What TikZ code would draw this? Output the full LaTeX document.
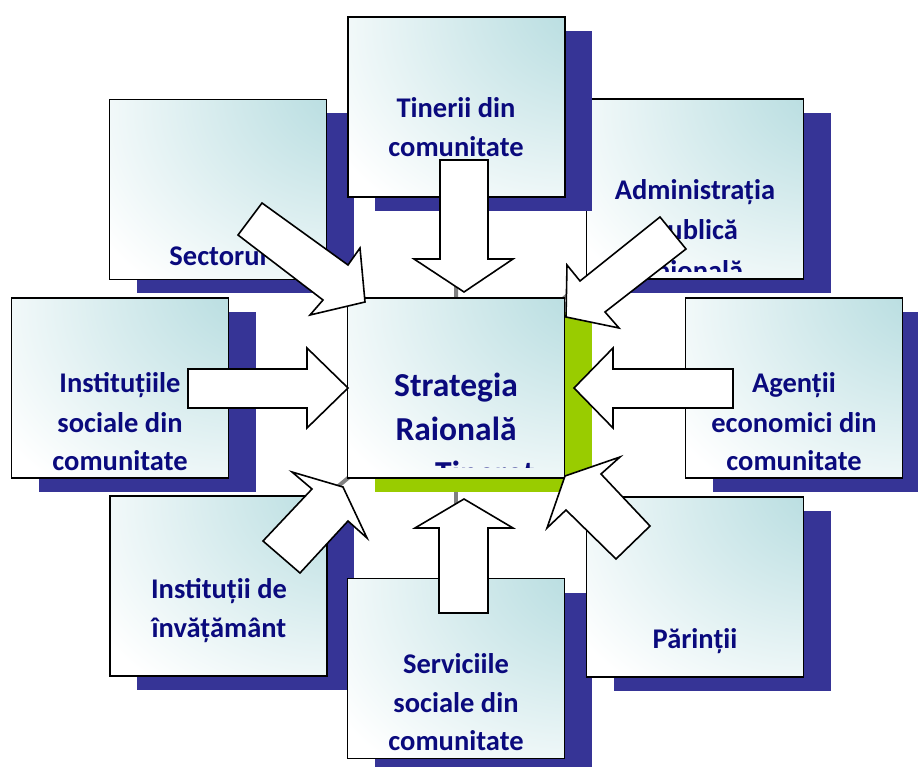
\documentclass[tikz,border=0pt]{standalone}
\usepackage{fontspec}
\setmainfont{Carlito}
\usetikzlibrary{calc}
\definecolor{shadowblue}{RGB}{54,52,150}
\definecolor{shadowgreen}{RGB}{153,204,0}
\definecolor{tealc}{RGB}{188,223,226}
\definecolor{navytext}{RGB}{10,10,125}
\definecolor{linegray}{RGB}{128,128,128}
\pgfdeclareradialshading{boxshade}{\pgfpoint{38bp}{34bp}}{color(0bp)=(tealc); color(12bp)=(tealc); color(58bp)=(white); color(130bp)=(white)}
\tikzset{
  shadowbox/.style={fill=shadowblue},
  greenbox/.style={fill=shadowgreen},
  panel/.style={rectangle, minimum width=217pt, minimum height=180pt, inner sep=0pt,
    shade, shading=boxshade, draw=black, line width=1.8pt},
  lbl/.style={text=navytext, font=\fontsize{28.5}{34}\selectfont\bfseries, inner sep=0pt, anchor=base},
  biglbl/.style={lbl, font=\fontsize{33.5}{40}\selectfont\bfseries},
  blockarrow/.style={fill=white, draw=black, line width=1.6pt, line join=miter},
  link/.style={draw=linegray, line width=4pt}
}
\newcommand{\panelwithshadow}[3]{%
  \path[#3] ($(#2)+(-81.5,-76)$) rectangle ($(#2)+(135.5,104)$);
  \node[panel] (#1) at (#2) {};
}
\begin{document}
\begin{tikzpicture}[x=1pt,y=-1pt]
\useasboundingbox (0,0) rectangle (918,767);
\clip (0,0) rectangle (918,767);
% centres
\coordinate (cctr) at (456,388);
\coordinate (ctin) at (456.5,107);
\coordinate (csec) at (218,189.5);
\coordinate (cadm) at (695,189);
\coordinate (cins) at (120,388);
\coordinate (cage) at (794,388);
\coordinate (cinv) at (218.5,586);
\coordinate (cser) at (456,668.5);
\coordinate (cpar) at (695,587);
% gray links
\foreach \t in {ctin,csec,cadm,cins,cage,cinv,cser,cpar}
  \draw[link] (cctr) -- (\t);
% outer panels
\panelwithshadow{adm}{cadm}{shadowbox}
\node[lbl] (adm1) at (695,200) {Administrația};
\node[lbl] (adm2) at (695,240) {publică};
\begin{scope}
  \clip (590,100) rectangle (800,272);
  \node[lbl] (adm3) at (695,280) {raională};
\end{scope}
\panelwithshadow{sec}{csec}{shadowbox}
\node[lbl] (sec1) at (218,266) {Sectorul};
\panelwithshadow{tin}{ctin}{shadowbox}
\node[lbl] (tin1) at (456,118) {Tinerii din};
\node[lbl] (tin2) at (456,157) {comunitate};
\panelwithshadow{ins}{cins}{shadowbox}
\node[lbl] (ins1) at (120,392) {Instituțiile};
\node[lbl] (ins2) at (120,432) {sociale din};
\node[lbl] (ins3) at (120,470) {comunitate};
\panelwithshadow{age}{cage}{shadowbox}
\node[lbl] (age1) at (794,392) {Agenții};
\node[lbl] (age2) at (794,432) {economici din};
\node[lbl] (age3) at (794,470) {comunitate};
\panelwithshadow{inv}{cinv}{shadowbox}
\node[lbl] (inv1) at (219,598) {Instituții de};
\node[lbl] (inv2) at (219,637) {învățământ};
\panelwithshadow{ser}{cser}{shadowbox}
\node[lbl] (ser1) at (456,673) {Serviciile};
\node[lbl] (ser2) at (456,712) {sociale din};
\node[lbl] (ser3) at (456,750) {comunitate};
\panelwithshadow{par}{cpar}{shadowbox}
\node[lbl] (par1) at (695,648) {Părinții};
% centre panel
\panelwithshadow{ctr}{cctr}{greenbox}
\node[biglbl] (ctr1) at (456,396) {Strategia};
\node[biglbl] (ctr2) at (456,440) {Raională};
\begin{scope}
  \clip (350,300) rectangle (562,467.5);
  \node[biglbl, anchor=base west] (ctr3) at (435,484) {Tineret};
\end{scope}
% block arrows
\draw[blockarrow] (440,160) -- (488,160) -- (488,259) -- (513,259) -- (464,292) -- (414,259) -- (440,259) -- cycle;
\draw[blockarrow] (439,613) -- (488,613) -- (488,528) -- (513,528) -- (464,499) -- (415,528) -- (439,528) -- cycle;
\draw[blockarrow] (188,369) -- (307,369) -- (307,348) -- (348,388) -- (307,428) -- (307,408) -- (188,408) -- cycle;
\draw[blockarrow] (733,369) -- (613,369) -- (613,348) -- (574,388) -- (613,428) -- (613,408) -- (733,408) -- cycle;
\draw[blockarrow] (262,203) -- (348,265) -- (360,248) -- (365,302) -- (310,315) -- (323,300) -- (238,235) -- cycle;
\draw[blockarrow] (660,217) -- (580,281) -- (567,265) -- (566,317) -- (619,328) -- (605,312) -- (686,249) -- cycle;
\draw[blockarrow] (263,541) -- (312,489) -- (292,472) -- (343,487) -- (367,538) -- (348,521) -- (300,573) -- cycle;
\draw[blockarrow] (650,526) -- (601,474) -- (620,457) -- (565,476) -- (547,528) -- (566,510) -- (616,559) -- cycle;
\end{tikzpicture}
\end{document}
